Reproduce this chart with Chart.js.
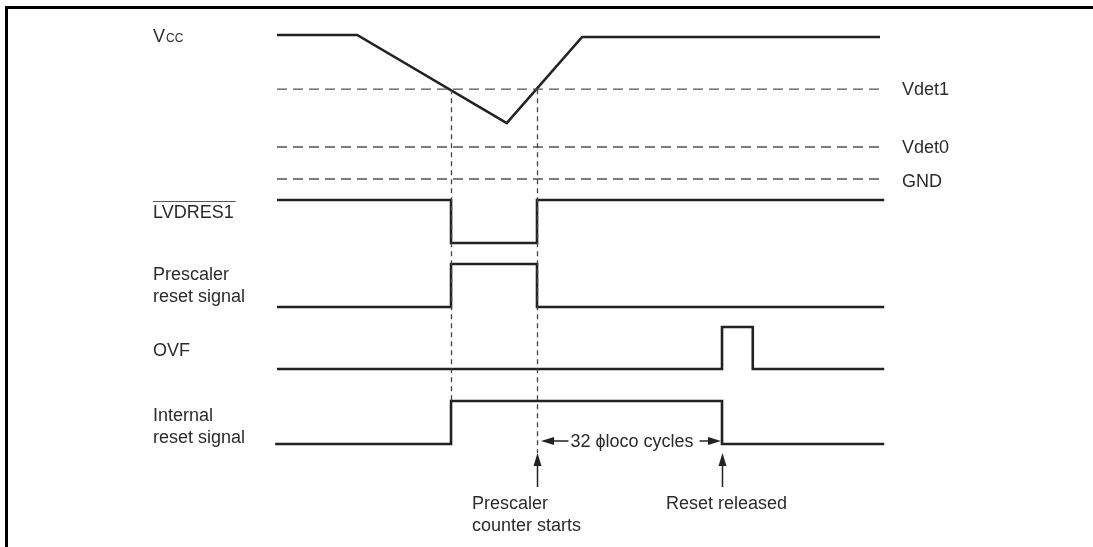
<!DOCTYPE html>
<html>
<head>
<meta charset="utf-8">
<script src="https://cdn.jsdelivr.net/npm/chart.js@4"></script>
<style>
  html, body { margin:0; padding:0; background:#fff; }
  #frame { position:absolute; left:5px; top:6px; width:1088px; height:541px; border-top:3px solid #000; border-left:3px solid #000; box-sizing:border-box; }
  #wrap { position:absolute; left:0; top:0; width:1093px; height:547px; }
</style>
</head>
<body>
<div id="frame"></div>
<div id="wrap"><canvas id="timing" aria-label="LVD reset timing" role="img"></canvas></div>
<script>
// time axis in arbitrary units: 0 = left end of the waveforms, 100 = right end
const vccTimes = [0, 13.3, 38.1, 50.6, 100];
const vccVolts = [5.0, 5.0, 1.94, 4.93, 4.93];

const levelNames = ['Vdet1', 'Vdet0', 'GND'];
const levelVolts = [3.12, 1.11, 0];

// digital signals: time of each edge and the level after it
const lvdresTimes = [0, 28.86, 43.12, 100.7];
const lvdresLevels = [1, 0, 1, 1];
const prescalerTimes = [0, 28.86, 43.12, 100.7];
const prescalerLevels = [0, 1, 0, 0];
const ovfTimes = [0, 73.8, 78.9, 100.7];
const ovfLevels = [0, 1, 0, 0];
const internalTimes = [-0.3, 28.86, 73.8, 100.7];
const internalLevels = [0, 1, 0, 0];

// Vcc crossing Vdet1 (dotted guides), and the 32-cycle count
const markerTimes = [28.86, 43.12];
const countStart = 43.12;
const countEnd = 73.8;
const countText = '32 \u03D5loco cycles';
const noteStart = ['Prescaler', 'counter starts'];
const noteEnd = ['Reset released'];

// ---- layout (pixels) ----
const W = 1093, H = 547;
const X0 = 277, X100 = 880;               // pixel of t=0 and t=100
const INK = '#222';
const TXT = '#2b2b2b';
const FONT = '"Liberation Sans", Arial, Helvetica, sans-serif';

function timeScale() {
  const s = (X100 - X0) / 100;
  return { type: 'linear', display: false, min: -X0 / s, max: (W - X0) / s };
}
// a hidden y scale where value v0 lands on pixel p0 and v1 on pixel p1
function laneScale(v0, p0, v1, p1) {
  const s = (p0 - p1) / (v1 - v0);
  return { type: 'linear', display: false, min: v0 - (H - p0) / s, max: v1 + p1 / s };
}

const pts = (xs, ys) => xs.map((x, i) => ({ x: x, y: ys[i] }));

const datasets = [];
levelVolts.forEach(v => {
  datasets.push({
    data: pts([0, 100], [v, v]), yAxisID: 'vcc',
    borderColor: '#555', borderWidth: 1.4, borderDash: [10, 6], pointRadius: 0, clip: false
  });
});
datasets.push({
  data: pts(vccTimes, vccVolts), yAxisID: 'vcc',
  borderColor: INK, borderWidth: 2.6, pointRadius: 0, tension: 0, borderJoinStyle: 'miter', clip: false
});
[[lvdresTimes, lvdresLevels, 'lvdres'], [prescalerTimes, prescalerLevels, 'presc'],
 [ovfTimes, ovfLevels, 'ovf'], [internalTimes, internalLevels, 'intr']].forEach(s => {
  datasets.push({
    data: pts(s[0], s[1]), yAxisID: s[2], stepped: 'before',
    borderColor: INK, borderWidth: 2.6, pointRadius: 0, borderJoinStyle: 'miter', clip: false
  });
});

function arrowHead(ctx, x, y, dir) {
  // dir: 'up' | 'left' | 'right'
  ctx.beginPath();
  if (dir === 'up') { ctx.moveTo(x, y); ctx.lineTo(x - 4, y + 13); ctx.lineTo(x + 4, y + 13); }
  if (dir === 'left') { ctx.moveTo(x, y); ctx.lineTo(x + 13, y - 4); ctx.lineTo(x + 13, y + 4); }
  if (dir === 'right') { ctx.moveTo(x, y); ctx.lineTo(x - 13, y - 4); ctx.lineTo(x - 13, y + 4); }
  ctx.closePath();
  ctx.fill();
}

const decor = {
  id: 'decor',
  afterDatasetsDraw(chart) {
    const ctx = chart.ctx;
    const sx = chart.scales.x, vcc = chart.scales.vcc, intr = chart.scales.intr;
    const tipY = intr.getPixelForValue(0) + 9;
    ctx.save();

    // dotted guides from the Vdet1 crossings
    ctx.strokeStyle = '#444';
    ctx.lineWidth = 1.3;
    ctx.setLineDash([5, 4]);
    const yTop = vcc.getPixelForValue(levelVolts[0]);
    const ends = [intr.getPixelForValue(1), tipY];
    markerTimes.forEach((t, i) => {
      const x = Math.round(sx.getPixelForValue(t)) + 0.5;
      ctx.beginPath(); ctx.moveTo(x, yTop); ctx.lineTo(x, ends[i]); ctx.stroke();
    });
    ctx.setLineDash([]);

    // upward arrows
    ctx.fillStyle = INK; ctx.strokeStyle = INK; ctx.lineWidth = 1.5;
    [countStart, countEnd].forEach(t => {
      const x = Math.round(sx.getPixelForValue(t)) + 0.5;
      ctx.beginPath(); ctx.moveTo(x, tipY + 10); ctx.lineTo(x, tipY + 34); ctx.stroke();
      arrowHead(ctx, x, tipY, 'up');
    });

    // 32 cycles dimension
    ctx.font = '18px ' + FONT;
    ctx.textBaseline = 'alphabetic';
    const x1 = sx.getPixelForValue(countStart) + 4;
    const x2 = sx.getPixelForValue(countEnd) - 1;
    const ay = intr.getPixelForValue(0) - 3;
    const tw = ctx.measureText(countText).width;
    const tx = (x1 + x2) / 2 - tw / 2 + 1;
    ctx.beginPath(); ctx.moveTo(x1 + 8, ay); ctx.lineTo(tx - 2, ay); ctx.stroke();
    ctx.beginPath(); ctx.moveTo(tx + tw + 6, ay); ctx.lineTo(x2 - 8, ay); ctx.stroke();
    arrowHead(ctx, x1, ay, 'left');
    arrowHead(ctx, x2, ay, 'right');
    ctx.fillStyle = TXT;
    ctx.fillText(countText, tx, ay + 6);

    // notes under the arrows
    const nx1 = sx.getPixelForValue(countStart) - 65;
    noteStart.forEach((s, i) => ctx.fillText(s, nx1, tipY + 56 + i * 22));
    const nx2 = sx.getPixelForValue(countEnd) - 56;
    noteEnd.forEach((s, i) => ctx.fillText(s, nx2, tipY + 56 + i * 22));

    // threshold names on the right
    levelNames.forEach((n, i) => {
      ctx.fillText(n, 902, vcc.getPixelForValue(levelVolts[i]) + 6 + (i === 2 ? 2 : 0));
    });

    // signal names on the left
    const LX = 153;
    ctx.font = '18px ' + FONT;
    ctx.fillText('V', LX, 42);
    const vw = ctx.measureText('V').width;
    ctx.font = '12px ' + FONT;
    ctx.fillText('CC', LX + vw + 1, 42);
    ctx.font = '18px ' + FONT;
    ctx.fillText('LVDRES1', LX, 218);
    const lw = ctx.measureText('LVDRES1').width;
    ctx.strokeStyle = '#555'; ctx.lineWidth = 1;
    ctx.beginPath(); ctx.moveTo(LX, 201.5); ctx.lineTo(LX + lw + 2, 201.5); ctx.stroke();
    ctx.fillText('Prescaler', LX, 280);
    ctx.fillText('reset signal', LX, 302);
    ctx.fillText('OVF', LX, 356);
    ctx.fillText('Internal', LX, 421);
    ctx.fillText('reset signal', LX, 443);
    ctx.restore();
  }
};

new Chart(document.getElementById('timing'), {
  type: 'line',
  data: { datasets: datasets },
  options: {
    responsive: true,
    maintainAspectRatio: false,
    animation: false,
    layout: { padding: 0 },
    scales: {
      x: timeScale(),
      vcc: laneScale(0, 179, 5, 35),
      lvdres: laneScale(0, 243, 1, 200),
      presc: laneScale(0, 307, 1, 264),
      ovf: laneScale(0, 369, 1, 327),
      intr: laneScale(0, 444, 1, 401)
    },
    plugins: { legend: { display: false }, tooltip: { enabled: false } }
  },
  plugins: [decor]
});
</script>
</body>
</html>
